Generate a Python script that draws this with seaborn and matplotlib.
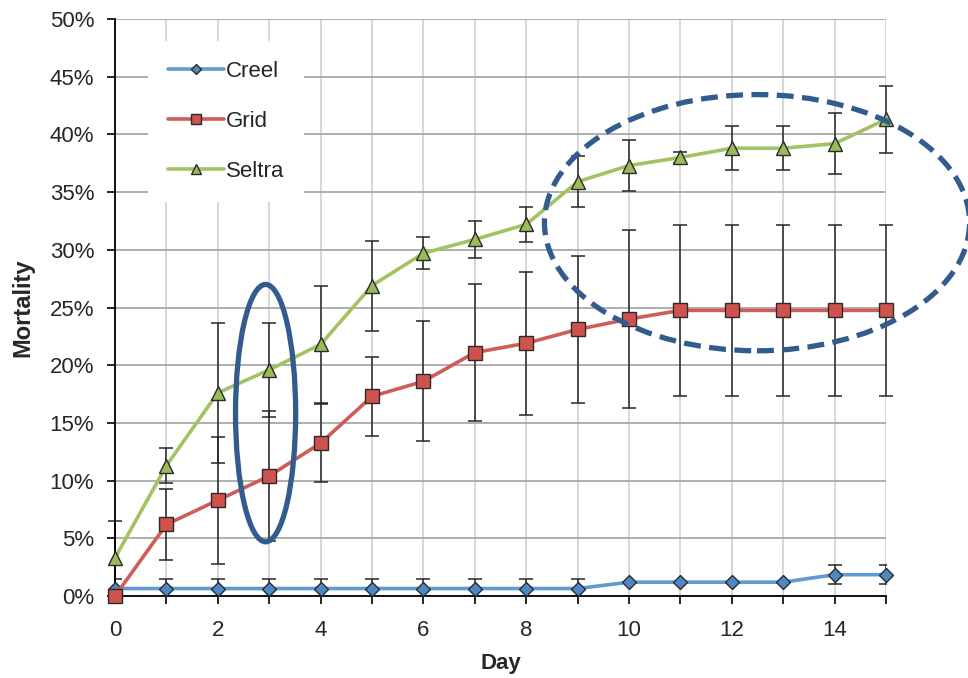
import numpy as np
import pandas as pd
import matplotlib
matplotlib.use("Agg")
import matplotlib.pyplot as plt
import seaborn as sns
from matplotlib.patches import Ellipse

# mortality (%) per day
days = list(range(16))
creel = [0.65] * 10 + [1.2] * 4 + [1.85] * 2
creel_err = [0.8] * 10 + [0, 0, 0, 0] + [0.8, 0.8]
grid = [0, 6.2, 8.3, 10.4, 13.25, 17.3, 18.6, 21.1, 21.9, 23.1, 24.0, 24.75, 24.75, 24.75, 24.75, 24.75]
grid_err = [0, 3.1, 5.5, 5.6, 3.4, 3.4, 5.2, 5.9, 6.2, 6.4, 7.7, 7.4, 7.4, 7.4, 7.4, 7.4]
seltra = [3.3, 11.3, 17.6, 19.6, 21.8, 26.9, 29.7, 30.9, 32.2, 35.9, 37.3, 38.0, 38.8, 38.8, 39.2, 41.3]
seltra_err = [3.2, 1.5, 6.1, 4.1, 5.1, 3.9, 1.4, 1.6, 1.5, 2.2, 2.2, 0.5, 1.9, 1.9, 2.65, 2.9]

groups = ["Creel", "Grid", "Seltra"]
line_col = {"Creel": "#5F9AD2", "Grid": "#CE5D58", "Seltra": "#A2C264"}
fill_col = {"Creel": "#4F86C6", "Grid": "#D0524D", "Seltra": "#9BBB59"}
markers = {"Creel": "D", "Grid": "s", "Seltra": "^"}
msize = {"Creel": 7, "Grid": 9.5, "Seltra": 9.5}

df = pd.DataFrame({
    "Day": days * 3,
    "Mortality": [v / 100 for v in creel + grid + seltra],
    "err": [v / 100 for v in creel_err + grid_err + seltra_err],
    "group": ["Creel"] * 16 + ["Grid"] * 16 + ["Seltra"] * 16,
})

sns.set_theme(style="white")
plt.rcParams["font.family"] = ["Liberation Sans", "DejaVu Sans"]

fig = plt.figure(figsize=(9.68, 6.78), dpi=100)
ax = fig.add_axes([0.1188, 0.1209, 0.7965, 0.8511])

# error bars behind the lines (creel ones stay clipped at 0%)
for g in groups:
    d = df[(df["group"] == g) & (df["err"] > 0)]
    eb = ax.errorbar(d["Day"], d["Mortality"], yerr=d["err"], fmt="none",
                     ecolor="#262626", elinewidth=1.1, capsize=5, capthick=1.1, zorder=2)
    if g != "Creel":
        for art in eb.lines[1] + eb.lines[2]:
            art.set_clip_on(False)

for i, g in enumerate(groups):
    d = df[df["group"] == g]
    sns.lineplot(data=d, x="Day", y="Mortality", ax=ax, color=line_col[g], lw=2.6,
                 marker=markers[g], markersize=msize[g], markerfacecolor=fill_col[g],
                 markeredgecolor="#2b2b2b", markeredgewidth=1.0, label=g,
                 zorder=3 + i, clip_on=False)

ax.set_xlim(0, 15)
ax.set_ylim(0, 0.5)
ax.set_xticks(days)
ax.set_xticklabels([str(d) if d % 2 == 0 else "" for d in days])
yt = np.arange(0, 0.51, 0.05)
ax.set_yticks(yt)
ax.set_yticklabels([f"{int(round(v * 100))}%" for v in yt])
ax.tick_params(axis="both", labelsize=16, direction="out", length=6, width=1.2,
               color="black", left=True, bottom=True)
ax.tick_params(axis="x", pad=11)
ax.tick_params(axis="y", pad=9)

ax.grid(axis="y", color="#a8a8a8", lw=1.3)
ax.grid(axis="x", color="#d4d4d4", lw=1.3)
ax.set_axisbelow(True)
for s in ["top", "right"]:
    ax.spines[s].set_visible(False)
for s in ["left", "bottom"]:
    ax.spines[s].set_color("black")
    ax.spines[s].set_linewidth(1.3)

ax.set_xlabel("Day", fontsize=16, fontweight="bold", labelpad=9)
ax.set_ylabel("Mortality", fontsize=17, fontweight="bold", labelpad=11)

leg = ax.legend(loc="upper left", bbox_to_anchor=(0.043, 0.962), fontsize=16,
                frameon=True, framealpha=1, facecolor="white", edgecolor="white",
                handlelength=2.5, handletextpad=0.1, labelspacing=1.3,
                borderpad=0.9, borderaxespad=0, markerscale=0.75)
leg.get_frame().set_linewidth(0)

# highlight ellipses
hl = "#335C8E"
ax.add_patch(Ellipse((2.93, 0.1585), 1.17, 0.223, fill=False, ec=hl, lw=3.8,
                     zorder=10, clip_on=False))
ax.add_patch(Ellipse((12.49, 0.3235), 8.27, 0.222, fill=False, ec=hl, lw=3.8,
                     ls=(0, (3.2, 1.6)), zorder=10, clip_on=False))

fig.savefig("out.png", dpi=100)
